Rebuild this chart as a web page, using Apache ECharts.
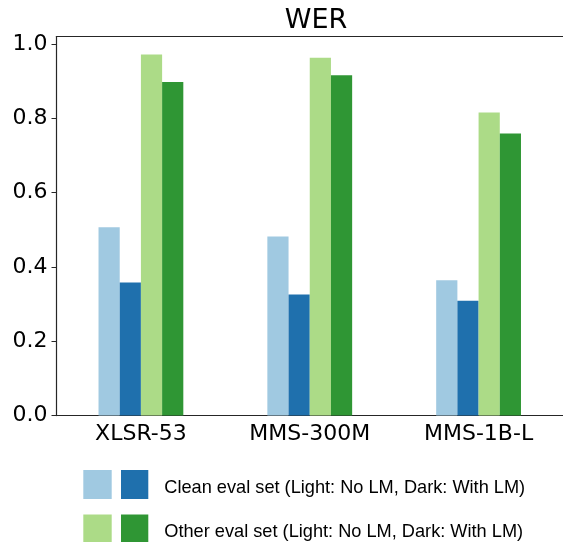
<!DOCTYPE html>
<html>
<head>
<meta charset="utf-8">
<script src="https://cdn.jsdelivr.net/npm/echarts@6/dist/echarts.min.js"></script>
<style>
html,body{margin:0;padding:0;background:#fff;overflow:hidden;}
#chart{width:563px;height:542px;}
</style>
</head>
<body>
<div id="chart"></div>
<script>
const categories = ['XLSR-53', 'MMS-300M', 'MMS-1B-L'];
const cleanNoLM = [0.507, 0.482, 0.364];
const cleanWithLM = [0.358, 0.326, 0.309];
const otherNoLM = [0.972, 0.963, 0.816];
const otherWithLM = [0.898, 0.916, 0.759];
const yTicks = [0, 0.2, 0.4, 0.6, 0.8, 1.0];
const legendLabels = [
  'Clean eval set (Light: No LM, Dark: With LM)',
  'Other eval set (Light: No LM, Dark: With LM)'
];
const colors = ['#a0c9e1', '#1f70ad', '#acdb87', '#2f9634'];

const chart = echarts.init(document.getElementById('chart'), null, {renderer: 'canvas'});
const axisColor = '#262626';
const tickFont = 'DejaVu Sans';

function bar(name, data, color) {
  return {
    name: name, type: 'bar', data: data,
    barWidth: 21.2, barGap: '0%',
    itemStyle: {color: color},
    emphasis: {disabled: true}
  };
}

const legendGraphics = [];
[[0, 1], [2, 3]].forEach((pair, row) => {
  const y = row === 0 ? 470 : 514.5;
  legendGraphics.push({type: 'rect', left: 83.3, top: y, shape: {width: 28.4, height: 29}, style: {fill: colors[pair[0]]}});
  legendGraphics.push({type: 'rect', left: 121, top: y, shape: {width: 27.3, height: 29}, style: {fill: colors[pair[1]]}});
  legendGraphics.push({type: 'text', left: 164.3, top: y + 8.5, style: {text: legendLabels[row], font: '18.2px "Liberation Sans", Arial, sans-serif', fill: '#000'}});
});

chart.setOption({
  animation: false,
  title: {
    text: 'WER', left: 311, top: 2, textAlign: 'center',
    textStyle: {fontFamily: tickFont, fontSize: 27, fontWeight: 'normal', color: '#000'}
  },
  grid: {
    left: 56.5, top: 36.6, width: 506.5, height: 379,
    show: false, containLabel: false, outerBoundsMode: 'none'
  },
  xAxis: [{
    type: 'category', data: categories,
    axisLine: {lineStyle: {color: axisColor, width: 1.2}},
    axisTick: {alignWithLabel: true, length: 5, lineStyle: {color: axisColor}},
    axisLabel: {margin: 8, fontFamily: tickFont, fontSize: 22, color: '#000'},
    splitLine: {show: false}
  }, {
    type: 'category', data: categories, position: 'top',
    axisLine: {show: true, lineStyle: {color: axisColor, width: 1.2}},
    axisTick: {show: false}, axisLabel: {show: false}, splitLine: {show: false}
  }],
  yAxis: {
    type: 'value', min: 0, max: 1.02,
    axisLine: {show: true, lineStyle: {color: axisColor, width: 1.2}},
    axisTick: {show: true, length: 5, customValues: yTicks, lineStyle: {color: axisColor}},
    axisLabel: {
      margin: 9, fontFamily: tickFont, fontSize: 22, color: '#000',
      customValues: yTicks,
      formatter: v => v.toFixed(1)
    },
    splitLine: {show: false}
  },
  series: [
    bar('Clean, No LM', cleanNoLM, colors[0]),
    bar('Clean, With LM', cleanWithLM, colors[1]),
    bar('Other, No LM', otherNoLM, colors[2]),
    bar('Other, With LM', otherWithLM, colors[3])
  ],
  graphic: legendGraphics
});
</script>
</body>
</html>
